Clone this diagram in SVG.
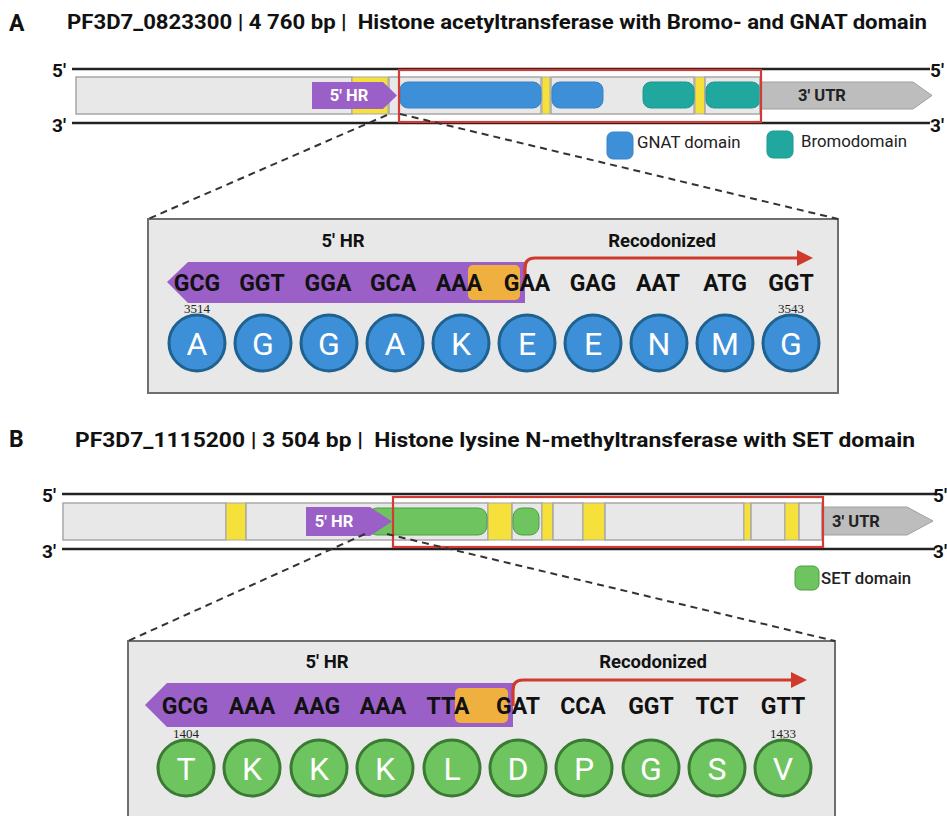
<svg xmlns="http://www.w3.org/2000/svg" width="947" height="816" viewBox="0 0 947 816">
<defs>
<style>
text{font-family:Roboto,"Liberation Sans",Arial,sans-serif;}
.panel{font-size:23px;font-weight:bold;fill:#111;}
.title{font-size:19.5px;font-weight:bold;fill:#111;white-space:pre;}
.end{font-size:19px;font-weight:bold;fill:#111;}
.strand{stroke:#222;stroke-width:2.5;}
.gene{fill:#e8e8e8;stroke:#a8a8a8;stroke-width:1.5;}
.yel{fill:#f6e13a;stroke:#a8a8a8;stroke-width:1;}
.hr{fill:#9b5fc8;}
.hrt{font-size:16.5px;font-weight:bold;fill:#fff;text-anchor:middle;}
.utr{fill:#bdbdbd;stroke:#a0a0a0;stroke-width:1;}
.utrt{font-size:16.5px;font-weight:bold;fill:#222;text-anchor:middle;}
.gnat{fill:#3d8fd8;stroke:#3a82c4;stroke-width:1;}
.bromo{fill:#20a89f;stroke:#1d9890;stroke-width:1;}
.set{fill:#6ec45e;stroke:#4f9c44;stroke-width:1;}
.zoom{fill:none;stroke:#d33b35;stroke-width:2.2;}
.dash{fill:none;stroke:#333;stroke-width:2;stroke-dasharray:7 5;}
.inset{fill:#e8e8e8;stroke:#6f6f6f;stroke-width:2;}
.lab{font-size:18.5px;font-weight:bold;fill:#111;text-anchor:middle;}
.cod{font-size:23px;font-weight:bold;fill:#111;text-anchor:middle;}
.orange{fill:#f0b040;}
.redl{fill:none;stroke:#cf3a2c;stroke-width:3.2;}
.redh{fill:#cf3a2c;}
.num{font-size:13px;fill:#222;text-anchor:middle;font-family:"Liberation Serif","DejaVu Serif",serif;}
.aa{font-size:32px;fill:#fff;text-anchor:middle;}
.ca{fill:#3d8fd8;stroke:#1f6290;stroke-width:3;}
.cb{fill:#6ec45e;stroke:#3b7a34;stroke-width:3;}
.leg{font-size:16.8px;fill:#222;}
</style>
</defs>

<g id="panelA">
<text class="panel" x="9" y="31">A</text>
<text class="title" x="67" y="29" textLength="860" lengthAdjust="spacingAndGlyphs" xml:space="preserve">PF3D7_0823300 | 4 760 bp |  Histone acetyltransferase with Bromo- and GNAT domain</text>
</g>

<g id="geneA">
<line class="strand" x1="72" y1="69" x2="930" y2="69"/>
<line class="strand" x1="72" y1="123" x2="930" y2="123"/>
<text class="end" x="52" y="77">5'</text>
<text class="end" x="52" y="132">3'</text>
<text class="end" x="930" y="77">5'</text>
<text class="end" x="930" y="132">3'</text>
<rect class="gene" x="76" y="77" width="276" height="37"/>
<rect class="yel" x="352" y="77" width="36" height="37"/>
<rect class="gene" x="389" y="77" width="152" height="37"/>
<rect class="yel" x="542" y="77" width="8" height="37"/>
<rect class="gene" x="551" y="77" width="143" height="37"/>
<rect class="yel" x="695" y="77" width="10" height="37"/>
<rect class="gene" x="705" y="77" width="55" height="37"/>
<rect class="gnat" x="400" y="82" width="141" height="26" rx="8"/>
<rect class="gnat" x="552" y="82" width="51" height="26" rx="8"/>
<rect class="bromo" x="643" y="82" width="51" height="26" rx="8"/>
<rect class="bromo" x="706" y="82" width="54" height="26" rx="8"/>
<polygon class="hr" points="312,82 383,82 397,95.5 383,109 312,109"/>
<text class="hrt" x="349" y="101">5' HR</text>
<polygon class="utr" points="760,82 913,82 932,95.5 913,109 760,109"/>
<text class="utrt" x="822" y="101">3' UTR</text>
<rect class="zoom" x="399" y="70" width="362" height="52"/>
</g>

<g id="legendA">
<rect class="gnat" x="607" y="132" width="26" height="27" rx="6"/>
<text class="leg" x="637" y="148">GNAT domain</text>
<rect class="bromo" x="767" y="131" width="26" height="27" rx="6"/>
<text class="leg" x="801" y="147">Bromodomain</text>
</g>

<g id="insetA">
<rect class="inset" x="148" y="219" width="690" height="174"/>
<text class="lab" x="343" y="247">5' HR</text>
<text class="lab" x="662" y="247">Recodonized</text>
<polygon class="hr" points="167,282 188,262 525,262 525,303 188,303"/>
<rect class="orange" x="468" y="265" width="52" height="35" rx="5"/>
<path class="redl" d="M525,286 V268 Q525,258 535,258 H798"/>
<polygon class="redh" points="797,250 813,258 797,266"/>
<g class="cod">
<text x="197" y="291">GCG</text><text x="262" y="291">GGT</text><text x="328" y="291">GGA</text><text x="393" y="291">GCA</text><text x="459" y="291">AAA</text><text x="527" y="291">GAA</text><text x="593" y="291">GAG</text><text x="658" y="291">AAT</text><text x="725" y="291">ATG</text><text x="791" y="291">GGT</text>
</g>
<text class="num" x="197" y="313">3514</text>
<text class="num" x="791" y="313">3543</text>
<g>
<circle class="ca" cx="197" cy="343" r="28"/><circle class="ca" cx="263" cy="343" r="28"/><circle class="ca" cx="329" cy="343" r="28"/><circle class="ca" cx="395" cy="343" r="28"/><circle class="ca" cx="461" cy="343" r="28"/><circle class="ca" cx="527" cy="343" r="28"/><circle class="ca" cx="593" cy="343" r="28"/><circle class="ca" cx="659" cy="343" r="28"/><circle class="ca" cx="725" cy="343" r="28"/><circle class="ca" cx="791" cy="343" r="28"/>
</g>
<g class="aa">
<text x="197" y="355">A</text><text x="263" y="355">G</text><text x="329" y="355">G</text><text x="395" y="355">A</text><text x="461" y="355">K</text><text x="527" y="355">E</text><text x="593" y="355">E</text><text x="659" y="355">N</text><text x="725" y="355">M</text><text x="791" y="355">G</text>
</g>
</g>

<g id="panelB">
<text class="panel" x="9" y="447">B</text>
<text class="title" x="75" y="447" textLength="840" lengthAdjust="spacingAndGlyphs" xml:space="preserve">PF3D7_1115200 | 3 504 bp |  Histone lysine N-methyltransferase with SET domain</text>
</g>

<g id="geneB">
<line class="strand" x1="62" y1="494" x2="935" y2="494"/>
<line class="strand" x1="62" y1="549" x2="935" y2="549"/>
<text class="end" x="42" y="502">5'</text>
<text class="end" x="42" y="558">3'</text>
<text class="end" x="933" y="502">5'</text>
<text class="end" x="933" y="558">3'</text>
<rect class="gene" x="63" y="503" width="163" height="37"/>
<rect class="yel" x="226" y="503" width="20" height="37"/>
<rect class="gene" x="246" y="503" width="242" height="37"/>
<rect class="yel" x="488" y="503" width="24" height="37"/>
<rect class="gene" x="512" y="503" width="30" height="37"/>
<rect class="yel" x="542" y="503" width="11" height="37"/>
<rect class="gene" x="553" y="503" width="30" height="37"/>
<rect class="yel" x="583" y="503" width="22" height="37"/>
<rect class="gene" x="605" y="503" width="139" height="37"/>
<rect class="yel" x="744" y="503" width="7" height="37"/>
<rect class="gene" x="751" y="503" width="34" height="37"/>
<rect class="yel" x="785" y="503" width="14" height="37"/>
<rect class="gene" x="799" y="503" width="23" height="37"/>
<rect class="set" x="368" y="508" width="119" height="27" rx="9"/>
<rect class="set" x="513" y="508" width="26" height="27" rx="9"/>
<polygon class="hr" points="306,507 370,507 392,521.5 370,536 306,536"/>
<text class="hrt" x="334" y="527">5' HR</text>
<polygon class="utr" points="822,507 907,507 933,521 907,535 822,535"/>
<text class="utrt" x="856" y="527">3' UTR</text>
<rect class="zoom" x="393" y="497" width="430" height="50"/>
</g>

<g id="legendB">
<rect class="set" x="795" y="566" width="24" height="24" rx="6"/>
<text class="leg" x="821" y="584" font-weight="500" font-size="17.5">SET domain</text>
</g>

<g id="insetB">
<rect class="inset" x="128" y="641" width="707" height="200"/>
<text class="lab" x="327" y="668">5' HR</text>
<text class="lab" x="653" y="668">Recodonized</text>
<polygon class="hr" points="145,705 167,683 513,683 513,727 167,727"/>
<rect class="orange" x="455" y="688" width="53" height="35" rx="5"/>
<path class="redl" d="M513,706 V690 Q513,680 523,680 H792"/>
<polygon class="redh" points="791,672 807,680 791,688"/>
<g class="cod">
<text x="185" y="714">GCG</text><text x="252" y="714">AAA</text><text x="317" y="714">AAG</text><text x="383" y="714">AAA</text><text x="448" y="714">TTA</text><text x="518" y="714">GAT</text><text x="583" y="714">CCA</text><text x="651" y="714">GGT</text><text x="717" y="714">TCT</text><text x="783" y="714">GTT</text>
</g>
<text class="num" x="186" y="738">1404</text>
<text class="num" x="783" y="738">1433</text>
<g>
<circle class="cb" cx="186" cy="768" r="28"/><circle class="cb" cx="252" cy="768" r="28"/><circle class="cb" cx="319" cy="768" r="28"/><circle class="cb" cx="385" cy="768" r="28"/><circle class="cb" cx="452" cy="768" r="28"/><circle class="cb" cx="518" cy="768" r="28"/><circle class="cb" cx="584" cy="768" r="28"/><circle class="cb" cx="651" cy="768" r="28"/><circle class="cb" cx="717" cy="768" r="28"/><circle class="cb" cx="783" cy="768" r="28"/>
</g>
<g class="aa">
<text x="186" y="780">T</text><text x="252" y="780">K</text><text x="319" y="780">K</text><text x="385" y="780">K</text><text x="452" y="780">L</text><text x="518" y="780">D</text><text x="584" y="780">P</text><text x="651" y="780">G</text><text x="717" y="780">S</text><text x="783" y="780">V</text>
</g>
</g>

<g id="connectors">
<line class="dash" x1="387" y1="115" x2="148" y2="219"/>
<line class="dash" x1="400" y1="114" x2="838" y2="219"/>
<line class="dash" x1="365" y1="534" x2="128" y2="641"/>
<line class="dash" x1="387" y1="534" x2="835" y2="641"/>
</g>
</svg>
